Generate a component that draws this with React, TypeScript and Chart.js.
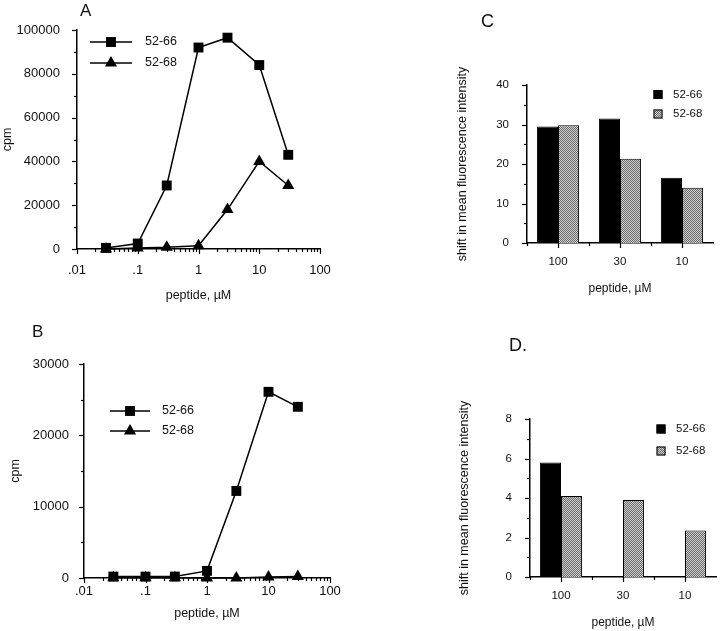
import React, { useEffect, useRef } from 'react';
import { Chart, registerables } from 'chart.js';

Chart.register(...registerables);

const FONT = "'Liberation Sans', Arial, Helvetica, sans-serif";
Chart.defaults.font.family = FONT;
Chart.defaults.color = '#000';

// ---------- data ----------
const SERIES_LABELS = ['52-66', '52-68'];
const PEPTIDE_UM = [0.03, 0.1, 0.3, 1, 3, 10, 30];

const A_52_66 = [500, 2500, 29000, 92000, 96500, 84000, 43000];
const A_52_68 = [0, 500, 800, 1500, 18000, 40000, 29000];

const B_52_66 = [200, 200, 200, 1000, 12200, 26100, 24000];
const B_52_68 = [50, 50, 50, 0, 0, 150, 200];

const LOG_DECADES = [0.01, 0.1, 1, 10, 100];
const LOG_DECADE_LABELS = ['.01', '.1', '1', '10', '100'];
const LOG_MINOR: number[] = [];
for (let d = 0; d < LOG_DECADES.length - 1; d++) {
  for (let m = 2; m <= 9; m++) LOG_MINOR.push(+(LOG_DECADES[d] * m).toPrecision(3));
}

const A_Y_MAJOR = [0, 20000, 40000, 60000, 80000, 100000];
const A_Y_MINOR = [10000, 30000, 50000, 70000, 90000];
const B_Y_MAJOR = [0, 10000, 20000, 30000];
const B_Y_MINOR = [5000, 15000, 25000];

const BAR_CATEGORIES = ['100', '30', '10'];
const C_52_66 = [29.5, 31.5, 16.5];
const C_52_68 = [29.8, 21.3, 14.0];
const C_Y_MAJOR = [0, 10, 20, 30, 40];
const C_Y_MINOR = [5, 15, 25, 35];

const D_52_66: (number | null)[] = [5.8, null, null];
const D_52_68 = [4.1, 3.9, 2.35];
const D_Y_MAJOR = [0, 2, 4, 6, 8];
const D_Y_MINOR = [1, 3, 5, 7];

const BAR_X_MAJOR = [0, 1, 2];
const BAR_X_MINOR = [-0.5, 0.5, 1.5];

// ---------- helpers ----------
function drawMarker(ctx: CanvasRenderingContext2D, style: string, x: number, y: number, r: number) {
  ctx.beginPath();
  if (style === 'triangle') {
    let rad = 0;
    ctx.moveTo(x + Math.sin(rad) * r, y - Math.cos(rad) * r);
    rad += (2 * Math.PI) / 3;
    ctx.lineTo(x + Math.sin(rad) * r, y - Math.cos(rad) * r);
    rad += (2 * Math.PI) / 3;
    ctx.lineTo(x + Math.sin(rad) * r, y - Math.cos(rad) * r);
    ctx.closePath();
  } else {
    const s = Math.SQRT1_2 * r;
    ctx.rect(x - s, y - s, 2 * s, 2 * s);
  }
  ctx.fill();
}

const ticksPlugin = {
  id: 'customTicks',
  afterDraw(chart: any, _args: any, opts: any) {
    const ctx = chart.ctx as CanvasRenderingContext2D;
    ctx.save();
    ctx.strokeStyle = '#000';
    ctx.lineWidth = 1.2;
    for (const spec of opts.specs || []) {
      const scale = chart.scales[spec.axis];
      const groups: [number[], number][] = [
        [spec.major, opts.majorLen],
        [spec.minor, opts.minorLen],
      ];
      for (const [values, len] of groups) {
        for (const v of values) {
          const p = Math.round(scale.getPixelForValue(v)) + 0.5;
          ctx.beginPath();
          if (scale.isHorizontal()) {
            const y = scale.top;
            ctx.moveTo(p, y);
            ctx.lineTo(p, y + len);
          } else {
            const x = scale.right;
            ctx.moveTo(x, p);
            ctx.lineTo(x - len, p);
          }
          ctx.stroke();
        }
      }
    }
    ctx.restore();
  },
};

const lineLegendPlugin = {
  id: 'lineLegend',
  afterDraw(chart: any, _args: any, opts: any) {
    if (!opts || opts.x0 === undefined) return;
    const ctx = chart.ctx as CanvasRenderingContext2D;
    ctx.save();
    chart.data.datasets.forEach((ds: any, i: number) => {
      const y = opts.ys[i];
      ctx.strokeStyle = '#000';
      ctx.lineWidth = 1.5;
      ctx.beginPath();
      ctx.moveTo(opts.x0, y);
      ctx.lineTo(opts.x1, y);
      ctx.stroke();
      ctx.fillStyle = '#000';
      drawMarker(ctx, ds.pointStyle, (opts.x0 + opts.x1) / 2, y, ds.pointRadius);
      ctx.font = `${opts.size}px ${FONT}`;
      ctx.textBaseline = 'middle';
      ctx.textAlign = 'left';
      ctx.fillStyle = '#111';
      ctx.fillText(ds.label, opts.tx, y);
    });
    ctx.restore();
  },
};

const barLegendPlugin = {
  id: 'barLegend',
  afterDraw(chart: any, _args: any, opts: any) {
    if (!opts || opts.sx === undefined) return;
    const ctx = chart.ctx as CanvasRenderingContext2D;
    ctx.save();
    chart.data.datasets.forEach((ds: any, i: number) => {
      const y = opts.ys[i];
      const h = opts.box / 2;
      ctx.fillStyle = ds.backgroundColor;
      ctx.fillRect(opts.sx - h, y - h, opts.box, opts.box);
      ctx.strokeStyle = '#000';
      ctx.lineWidth = 1;
      ctx.strokeRect(opts.sx - h + 0.5, y - h + 0.5, opts.box - 1, opts.box - 1);
      ctx.font = `${opts.size}px ${FONT}`;
      ctx.textBaseline = 'middle';
      ctx.textAlign = 'left';
      ctx.fillStyle = '#111';
      ctx.fillText(ds.label, opts.tx, y);
    });
    ctx.restore();
  },
};

const letterPlugin = {
  id: 'panelLetter',
  afterDraw(chart: any, _args: any, opts: any) {
    if (!opts || !opts.text) return;
    const ctx = chart.ctx as CanvasRenderingContext2D;
    ctx.save();
    ctx.font = `${opts.size}px ${FONT}`;
    ctx.textBaseline = 'middle';
    ctx.textAlign = 'left';
    ctx.fillStyle = '#111';
    ctx.fillText(opts.text, opts.x, opts.y);
    ctx.restore();
  },
};

function makeStipple(): CanvasPattern | string {
  const c = document.createElement('canvas');
  c.width = 2;
  c.height = 2;
  const g = c.getContext('2d');
  if (!g) return '#9c9c9c';
  g.fillStyle = '#cfcfcf';
  g.fillRect(0, 0, 2, 2);
  g.fillStyle = '#6a6a6a';
  g.fillRect(0, 0, 1, 1);
  g.fillRect(1, 1, 1, 1);
  return g.createPattern(c, 'repeat') || '#9c9c9c';
}

const axisBorder = { display: true, color: '#000', width: 1.5 };

type LineP = {
  s1: number[]; s2: number[]; ymax: number; yMajor: number[]; yMinor: number[];
  padTop: number; padRight: number; yw: number; xh: number;
  xpad: number; ypad: number; xtpad: number; ytpad: number;
  legend: any; letter: any;
};

function lineConfig(p: LineP): any {
  const mk = (label: string, vals: number[], style: string) => ({
    label,
    data: PEPTIDE_UM.map((x, i) => ({ x, y: vals[i] })),
    borderColor: '#000',
    backgroundColor: '#000',
    borderWidth: 1.5,
    pointStyle: style,
    pointRadius: 7,
    pointBorderWidth: 0,
    pointBackgroundColor: '#000',
    tension: 0,
    clip: false,
  });
  return {
    type: 'line',
    data: {
      datasets: [mk(SERIES_LABELS[0], p.s1, 'rect'), mk(SERIES_LABELS[1], p.s2, 'triangle')],
    },
    options: {
      animation: false,
      responsive: false,
      events: [],
      layout: { padding: { left: 0, top: p.padTop, right: p.padRight, bottom: 0 } },
      plugins: {
        legend: { display: false },
        tooltip: { enabled: false },
        customTicks: {
          majorLen: 5,
          minorLen: 3,
          specs: [
            { axis: 'x', major: LOG_DECADES, minor: LOG_MINOR },
            { axis: 'y', major: p.yMajor, minor: p.yMinor },
          ],
        },
        lineLegend: p.legend,
        panelLetter: p.letter,
      },
      scales: {
        x: {
          type: 'logarithmic',
          min: 0.01,
          max: 100,
          grid: { display: false },
          border: axisBorder,
          afterBuildTicks: (s: any) => {
            s.ticks = LOG_DECADES.map((v) => ({ value: v }));
          },
          afterFit: (s: any) => {
            s.height = p.xh;
          },
          ticks: {
            callback: (v: number) => LOG_DECADE_LABELS[LOG_DECADES.indexOf(v)] ?? '',
            padding: p.xpad,
            font: { size: 13 },
            color: '#111',
            maxRotation: 0,
            autoSkip: false,
          },
          title: {
            display: true,
            text: 'peptide, µM',
            font: { size: 12.5 },
            color: '#111',
            padding: { top: 0, bottom: p.xtpad },
          },
        },
        y: {
          type: 'linear',
          min: 0,
          max: p.ymax,
          grid: { display: false },
          border: axisBorder,
          afterBuildTicks: (s: any) => {
            s.ticks = p.yMajor.map((v) => ({ value: v }));
          },
          afterFit: (s: any) => {
            s.width = p.yw;
          },
          ticks: {
            callback: (v: number) => String(v),
            padding: p.ypad,
            font: { size: 13 },
            color: '#111',
          },
          title: {
            display: true,
            text: 'cpm',
            font: { size: 12.5 },
            color: '#111',
            padding: { top: p.ytpad, bottom: 0 },
          },
        },
      },
    },
    plugins: [ticksPlugin, lineLegendPlugin, letterPlugin],
  };
}

type BarP = {
  s1: (number | null)[]; s2: number[]; ymax: number; yMajor: number[]; yMinor: number[];
  padTop: number; padRight: number; yw: number; xh: number;
  xtpad: number; ytpad: number; legend: any; letter: any;
};

function barConfig(p: BarP): any {
  const stipple = makeStipple();
  const base = {
    borderColor: '#000',
    borderWidth: 1,
    categoryPercentage: 0.68,
    barPercentage: 1.0,
  };
  return {
    type: 'bar',
    data: {
      labels: BAR_CATEGORIES,
      datasets: [
        { ...base, label: SERIES_LABELS[0], data: p.s1, backgroundColor: '#000' },
        { ...base, label: SERIES_LABELS[1], data: p.s2, backgroundColor: stipple },
      ],
    },
    options: {
      animation: false,
      responsive: false,
      events: [],
      layout: { padding: { left: 0, top: p.padTop, right: p.padRight, bottom: 0 } },
      plugins: {
        legend: { display: false },
        tooltip: { enabled: false },
        customTicks: {
          majorLen: 5,
          minorLen: 3,
          specs: [
            { axis: 'x', major: BAR_X_MAJOR, minor: BAR_X_MINOR },
            { axis: 'y', major: p.yMajor, minor: p.yMinor },
          ],
        },
        barLegend: p.legend,
        panelLetter: p.letter,
      },
      scales: {
        x: {
          type: 'category',
          grid: { display: false },
          border: axisBorder,
          afterFit: (s: any) => {
            s.height = p.xh;
          },
          ticks: { padding: 4, font: { size: 11.5 }, color: '#111', maxRotation: 0 },
          title: {
            display: true,
            text: 'peptide, µM',
            font: { size: 12 },
            color: '#111',
            padding: { top: 0, bottom: p.xtpad },
          },
        },
        y: {
          type: 'linear',
          min: 0,
          max: p.ymax,
          grid: { display: false },
          border: axisBorder,
          afterBuildTicks: (s: any) => {
            s.ticks = p.yMajor.map((v) => ({ value: v }));
          },
          afterFit: (s: any) => {
            s.width = p.yw;
          },
          ticks: {
            callback: (v: number) => String(v),
            padding: 10,
            font: { size: 11.5 },
            color: '#111',
          },
          title: {
            display: true,
            text: 'shift in mean fluorescence intensity',
            font: { size: 12.5 },
            color: '#111',
            padding: { top: p.ytpad, bottom: 0 },
          },
        },
      },
    },
    plugins: [ticksPlugin, barLegendPlugin, letterPlugin],
  };
}

function Panel({ left, top, width, height, build }: { left: number; top: number; width: number; height: number; build: () => any }) {
  const ref = useRef<HTMLCanvasElement>(null);
  useEffect(() => {
    if (!ref.current) return;
    const chart = new Chart(ref.current, build());
    return () => chart.destroy();
  }, []);
  return (
    <canvas
      ref={ref}
      width={width}
      height={height}
      style={{ position: 'absolute', left, top, width, height, display: 'block' }}
    />
  );
}

export default function App() {
  return (
    <div style={{ position: 'absolute', left: 0, top: 0, width: 720, height: 631, background: '#fff', overflow: 'hidden' }}>
      <Panel
        left={0}
        top={0}
        width={360}
        height={315}
        build={() =>
          lineConfig({
            s1: A_52_66, s2: A_52_68, ymax: 100000, yMajor: A_Y_MAJOR, yMinor: A_Y_MINOR,
            padTop: 30, padRight: 40, yw: 77, xh: 66, xpad: 6, ypad: 9, xtpad: 12, ytpad: 0,
            legend: { x0: 90, x1: 132, tx: 145, ys: [42, 63], size: 12.5 },
            letter: { text: 'A', x: 80, y: 11, size: 17 },
          })
        }
      />
      <Panel
        left={0}
        top={315}
        width={360}
        height={316}
        build={() =>
          lineConfig({
            s1: B_52_66, s2: B_52_68, ymax: 30000, yMajor: B_Y_MAJOR, yMinor: B_Y_MINOR,
            padTop: 49, padRight: 30, yw: 84, xh: 53, xpad: -2, ypad: 7, xtpad: 10, ytpad: 8,
            legend: { x0: 110, x1: 150, tx: 162, ys: [96, 116], size: 12.5 },
            letter: { text: 'B', x: 32, y: 17.5, size: 17 },
          })
        }
      />
      <Panel
        left={360}
        top={0}
        width={360}
        height={315}
        build={() =>
          barConfig({
            s1: C_52_66, s2: C_52_68, ymax: 40, yMajor: C_Y_MAJOR, yMinor: C_Y_MINOR,
            padTop: 85, padRight: 7, yw: 167, xh: 72, xtpad: 19.5, ytpad: 95.5,
            legend: { sx: 298, tx: 313, ys: [94.5, 114], box: 9, size: 11.5 },
            letter: { text: 'C', x: 121, y: 22.5, size: 18 },
          })
        }
      />
      <Panel
        left={360}
        top={315}
        width={360}
        height={316}
        build={() =>
          barConfig({
            s1: D_52_66, s2: D_52_68, ymax: 8, yMajor: D_Y_MAJOR, yMinor: D_Y_MINOR,
            padTop: 104, padRight: 4, yw: 170, xh: 54, xtpad: 1.5, ytpad: 97.5,
            legend: { sx: 301, tx: 316, ys: [114, 136], box: 9, size: 11.5 },
            letter: { text: 'D.', x: 149, y: 31.5, size: 18 },
          })
        }
      />
    </div>
  );
}
